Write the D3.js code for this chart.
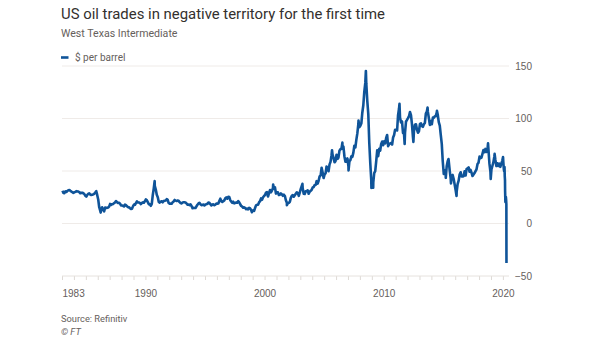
<!DOCTYPE html>
<meta charset="utf-8">
<style>

body {
  margin: 0;
  background: #fff;
  font-family: Roboto, "Noto Sans", Arial, sans-serif;
}

.grid line {
  stroke: #efebe8;
  stroke-width: 1px;
}

.axis text {
  fill: #66605c;
  font-size: 10px;
}

.price {
  fill: none;
  stroke: #0f5499;
  stroke-width: 2.6px;
  stroke-linejoin: round;
}

</style>
<body>
<script src="https://cdn.jsdelivr.net/npm/d3@7"></script>
<script>

// Monthly WTI prices ($ per barrel), one value per month
var prices1980s = [ // from Jan 1983
  31.2, 29.0, 28.8, 30.6, 30.0, 31.0, 31.7, 31.9, 31.1, 30.4, 29.8, 29.2,
  29.7, 30.1, 30.8, 30.6, 30.5, 29.8, 28.8, 29.3, 29.3, 28.8, 28.0, 26.5,
  25.6, 27.3, 28.2, 28.8, 27.6, 27.1, 27.3, 27.8, 28.3, 29.5, 30.8, 27.2,
  22.9, 15.5, 12.6, 12.8, 15.4, 13.5, 11.6, 15.1, 14.9, 14.9, 15.2, 16.1,
  18.7, 17.7, 18.3, 18.6, 19.4, 20.0, 21.4, 20.3, 19.5, 19.8, 18.9, 17.2,
  17.1, 16.8, 16.2, 17.9, 17.4, 16.5, 15.5, 15.5, 14.5, 13.8, 14.0, 16.3,
  18.0, 17.8, 19.4, 21.0, 20.0, 20.0, 19.6, 18.5, 19.6, 20.1, 19.8, 21.1
];
var prices1990s = [ // from Jan 1990
  22.9, 22.1, 20.4, 18.4, 18.2, 16.9, 18.6, 27.2, 33.7, 35.9, 32.3, 27.3,
  25.0, 20.5, 19.9, 20.8, 21.2, 20.2, 21.4, 21.7, 21.9, 23.2, 22.5, 19.5,
  18.8, 19.0, 18.9, 20.2, 20.9, 22.4, 21.8, 21.4, 21.9, 21.7, 20.3, 19.4,
  19.1, 20.1, 20.3, 20.3, 19.9, 19.1, 17.9, 18.0, 17.5, 18.2, 16.7, 14.5,
  15.0, 14.8, 14.7, 16.4, 17.9, 19.1, 19.7, 18.4, 17.5, 17.7, 18.1, 17.2,
  18.0, 18.5, 18.6, 19.9, 19.7, 18.4, 17.3, 18.0, 18.2, 17.4, 18.0, 19.0,
  18.9, 19.1, 21.4, 23.6, 21.2, 20.5, 21.3, 22.0, 24.0, 24.9, 23.7, 25.4,
  25.2, 22.2, 21.0, 19.7, 20.8, 19.2, 19.6, 19.9, 19.8, 21.3, 20.2, 18.3,
  16.7, 16.1, 15.0, 15.4, 14.9, 13.7, 14.2, 13.5, 15.0, 14.4, 12.9, 11.3,
  12.5, 12.0, 14.7, 17.3, 17.8, 17.9, 20.1, 21.3, 23.9, 22.6, 25.0, 26.1
];
var prices2000s = [ // from Jan 2000
  27.2, 29.4, 29.9, 25.7, 28.8, 31.8, 29.7, 31.3, 33.9, 33.1, 34.4, 28.5,
  29.6, 29.6, 27.2, 27.4, 28.6, 27.6, 26.4, 27.4, 26.2, 22.2, 19.7, 19.3,
  19.7, 20.7, 24.4, 26.3, 27.0, 25.5, 26.9, 28.4, 29.7, 28.9, 26.3, 29.4,
  32.9, 35.9, 33.6, 28.3, 28.1, 30.7, 30.8, 31.6, 28.3, 30.3, 31.1, 32.1,
  34.3, 34.7, 36.7, 36.7, 40.3, 38.0, 40.7, 44.9, 45.9, 53.1, 48.5, 43.3,
  46.8, 48.0, 54.3, 53.0, 49.8, 56.3, 58.7, 65.0, 65.6, 62.4, 58.3, 59.4,
  65.5, 61.6, 62.7, 69.4, 70.8, 70.9, 74.4, 73.0, 63.8, 58.9, 59.1, 62.0,
  54.5, 59.3, 60.4, 63.9, 63.5, 67.5, 74.1, 72.4, 79.9, 85.8, 94.8, 91.7,
  93.0, 95.4, 105.5, 112.6, 125.4, 133.9, 133.4, 116.7, 104.1, 76.6, 57.3, 41.1,
  41.7, 39.1, 48.0, 49.8, 59.2, 69.7, 64.1, 71.1, 69.5, 75.8, 78.1, 74.5
];
var prices2010s = [ // from Jan 2010
  78.3, 76.4, 81.2, 84.3, 73.7, 75.3, 76.3, 76.6, 75.2, 81.9, 84.3, 89.2,
  89.2, 88.6, 102.9, 109.5, 100.9, 96.3, 97.3, 86.3, 85.5, 86.3, 97.2, 98.6,
  100.3, 102.2, 106.2, 103.3, 94.7, 82.3, 87.9, 94.1, 94.5, 89.5, 86.5, 87.9,
  94.8, 95.3, 92.9, 92.0, 94.5, 95.8, 104.6, 106.6, 106.3, 100.5, 93.9, 97.6,
  94.6, 100.8, 100.8, 102.1, 102.2, 105.8, 103.6, 96.5, 93.2, 84.4, 75.8, 59.3,
  47.2, 50.6, 47.8, 54.5, 59.3, 59.8, 50.9, 42.9, 45.5, 46.2, 42.4, 37.2,
  31.7, 30.3, 37.6, 40.8, 46.7, 48.8, 44.7, 44.7, 45.2, 49.8, 45.7, 52.0,
  52.5, 53.5, 49.3, 51.1, 48.5, 45.2, 46.6, 48.0, 49.8, 51.6, 56.6, 57.9,
  63.7, 62.2, 62.7, 66.3, 70.0, 67.9, 71.0, 68.1, 70.2, 70.8, 57.0, 49.5,
  51.4, 55.0, 58.2, 63.9, 60.8, 54.7, 57.4, 54.8, 57.0, 54.0, 57.0, 59.9
];

// Daily highs and lows that stand out on the chart, plus the 2020 collapse
var dailyPoints = [
  ["1986-03-31", 10.4], ["1990-10-11", 40.4], ["1998-12-10", 10.7],
  ["2000-09-20", 37.2], ["2001-11-15", 17.5], ["2003-03-07", 37.8],
  ["2005-08-30", 69.8], ["2006-07-14", 77.0], ["2007-01-18", 50.5],
  ["2007-11-20", 98.0], ["2008-07-03", 145.3], ["2008-12-19", 33.9],
  ["2009-02-12", 34.0], ["2011-04-29", 113.9], ["2011-10-04", 75.7],
  ["2012-06-28", 77.7], ["2013-09-06", 110.5], ["2014-06-20", 107.3],
  ["2015-03-17", 43.5], ["2015-06-10", 61.4], ["2015-08-24", 38.2],
  ["2016-02-11", 26.2], ["2018-10-03", 76.4], ["2018-12-24", 42.5],
  ["2019-04-23", 66.3],
  ["2020-01-06", 63.3], ["2020-01-15", 58.2], ["2020-01-31", 51.6],
  ["2020-02-10", 49.6], ["2020-02-20", 53.8], ["2020-02-28", 44.8],
  ["2020-03-06", 41.3], ["2020-03-09", 31.1], ["2020-03-18", 20.4],
  ["2020-03-27", 21.5], ["2020-04-02", 25.3], ["2020-04-09", 22.8],
  ["2020-04-17", 18.3], ["2020-04-20", -37.6]
];

var yTicks = [150, 100, 50, 0, -50];
var xLabelYears = [1983, 1990, 2000, 2010, 2020];

var title = "US oil trades in negative territory for the first time",
    subtitle = "West Texas Intermediate",
    legendLabel = "$ per barrel",
    source = "Source: Refinitiv";

var width = 605,
    height = 341,
    left = 62,
    gridRight = 509;

var parseDate = d3.timeParse("%Y-%m-%d");

var data = [];
[[1983, prices1980s], [1990, prices1990s], [2000, prices2000s], [2010, prices2010s]]
  .forEach(function(block) {
    block[1].forEach(function(v, i) {
      data.push({date: new Date(block[0], i, 15), value: v});
    });
  });
dailyPoints.forEach(function(p) {
  data.push({date: parseDate(p[0]), value: p[1]});
});
data.sort(function(a, b) { return a.date - b.date; });

var x = d3.scaleTime()
    .domain([new Date(1983, 0, 1), new Date(2020, 3, 21)])
    .range([left, 506.5]);

var y = d3.scaleLinear()
    .domain([-50, 150])
    .range([276, 66]);

var svg = d3.select("body").append("svg")
    .attr("width", width)
    .attr("height", height);

// header
svg.append("text")
    .attr("x", 61).attr("y", 19)
    .attr("fill", "#33302e")
    .style("font-size", "14.9px")
    .text(title);

svg.append("text")
    .attr("x", 61).attr("y", 37)
    .attr("fill", "#66605c")
    .style("font-size", "10.6px")
    .text(subtitle);

svg.append("line")
    .attr("x1", 61).attr("x2", 68.5)
    .attr("y1", 57.5).attr("y2", 57.5)
    .attr("stroke", "#0f5499")
    .attr("stroke-width", 2.6);

svg.append("text")
    .attr("x", 75).attr("y", 61)
    .attr("fill", "#66605c")
    .style("font-size", "10px")
    .text(legendLabel);

// gridlines
svg.append("g")
    .attr("class", "grid")
  .selectAll("line")
    .data(yTicks.filter(function(d) { return d > -50; }))
  .enter().append("line")
    .attr("x1", left).attr("x2", gridRight)
    .attr("y1", function(d) { return y(d); })
    .attr("y2", function(d) { return y(d); });

// y axis labels on the right
var yAxis = svg.append("g")
    .attr("class", "axis")
    .attr("transform", "translate(532,0)")
    .call(d3.axisLeft(y).tickValues(yTicks).tickSize(0).tickPadding(0));
yAxis.select(".domain").remove();

// x axis: a tick for every year, labels only on a few
var years = d3.range(1983, 2021).map(function(yr) { return new Date(yr, 0, 1); });

var xAxis = svg.append("g")
    .attr("class", "axis")
    .attr("transform", "translate(0," + y(-50) + ")")
    .call(d3.axisBottom(x)
      .tickValues(years)
      .tickSize(4)
      .tickPadding(10)
      .tickFormat(function(d) {
        return xLabelYears.indexOf(d.getFullYear()) >= 0 ? d.getFullYear() : "";
      }));
xAxis.select(".domain").remove();
xAxis.selectAll(".tick line").attr("stroke", "#dedad6");
xAxis.selectAll(".tick text")
    .filter(function(d) { return d.getFullYear() === 1983; })
    .attr("text-anchor", "start");

xAxis.append("line")
    .attr("x1", left).attr("x2", gridRight)
    .attr("stroke", "#e6e2de");

// the price line
var line = d3.line()
    .x(function(d) { return x(d.date); })
    .y(function(d) { return y(d.value); });

svg.append("path")
    .datum(data)
    .attr("class", "price")
    .attr("d", line);

// footer
svg.append("text")
    .attr("x", 61).attr("y", 322)
    .attr("fill", "#66605c")
    .style("font-size", "9.3px")
    .text(source);

svg.append("text")
    .attr("x", 61).attr("y", 335)
    .attr("fill", "#66605c")
    .style("font-size", "9.3px")
    .style("font-style", "italic")
    .text("\u00a9 FT");

</script>
</body>
